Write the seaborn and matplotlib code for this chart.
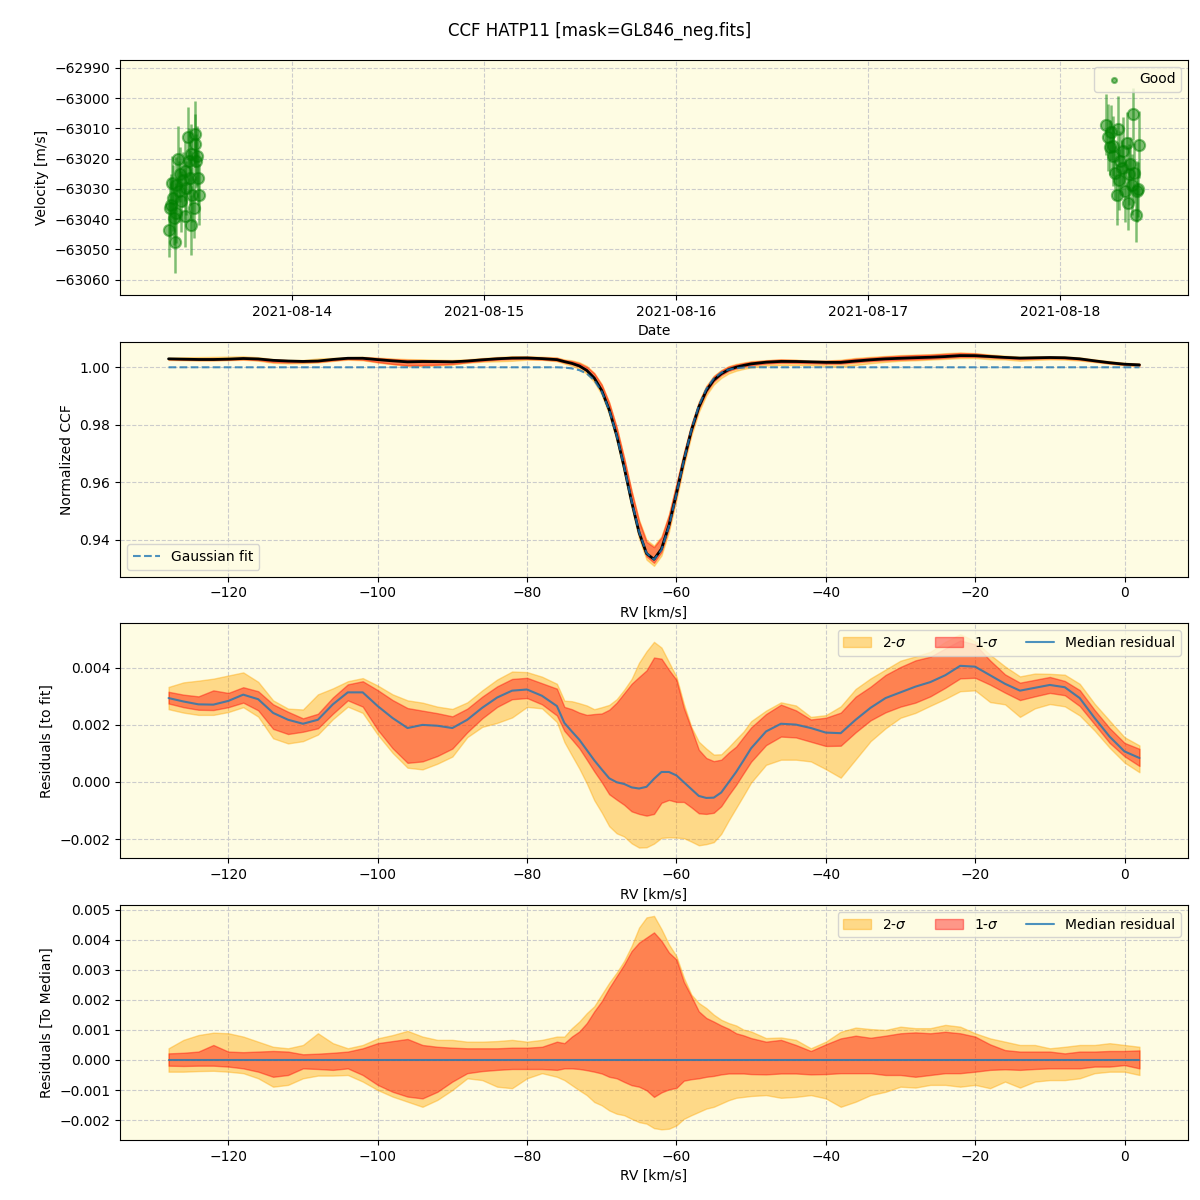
import numpy as np
import pandas as pd
import matplotlib.pyplot as plt
import matplotlib.dates as mdates
import seaborn as sns

# ---------------- radial velocity time series (top panel) ----------------
rv_times = ['2021-08-13 08:37', '2021-08-13 09:22', '2021-08-13 08:52', '2021-08-13 09:02',
            '2021-08-13 08:45', '2021-08-13 09:10', '2021-08-13 09:17', '2021-08-13 09:35',
            '2021-08-13 09:47', '2021-08-13 10:00', '2021-08-13 10:13', '2021-08-13 09:52',
            '2021-08-13 10:25', '2021-08-13 10:37', '2021-08-13 10:50', '2021-08-13 11:02',
            '2021-08-13 11:10', '2021-08-13 11:15', '2021-08-13 11:28', '2021-08-13 11:35',
            '2021-08-13 11:47', '2021-08-13 11:52', '2021-08-13 11:58', '2021-08-13 12:05',
            '2021-08-13 12:13', '2021-08-13 12:17', '2021-08-13 12:25', '2021-08-13 09:35',
            '2021-08-13 10:37', '2021-08-13 11:28',
            '2021-08-18 05:45', '2021-08-18 06:02', '2021-08-18 06:20', '2021-08-18 06:35',
            '2021-08-18 06:40', '2021-08-18 07:17', '2021-08-18 06:52', '2021-08-18 07:05',
            '2021-08-18 07:25', '2021-08-18 07:43', '2021-08-18 07:55', '2021-08-18 08:07',
            '2021-08-18 08:20', '2021-08-18 08:28', '2021-08-18 08:40', '2021-08-18 08:45',
            '2021-08-18 08:58', '2021-08-18 09:05', '2021-08-18 09:17', '2021-08-18 09:28',
            '2021-08-18 09:35', '2021-08-18 09:47', '2021-08-18 09:55', '2021-08-18 07:30',
            '2021-08-18 06:15']
rv_vals = [-63043.6, -63047.7, -63035.2, -63028.0, -63036.3, -63033.0, -63039.7, -63038.0,
           -63020.2, -63025.2, -63034.1, -63030.8, -63026.9, -63039.1, -63029.7, -63013.0,
           -63020.8, -63026.3, -63041.9, -63031.9, -63036.3, -63011.9, -63015.2, -63020.8,
           -63019.1, -63026.3, -63031.9, -63028.6, -63024.1, -63018.5,
           -63008.8, -63013.0, -63011.3, -63015.8, -63019.1, -63010.2, -63024.7, -63031.9,
           -63026.9, -63023.0, -63017.4, -63030.8, -63014.7, -63034.7, -63025.2, -63021.9,
           -63028.6, -63005.2, -63024.7, -63038.6, -63030.8, -63030.2, -63015.4, -63020.8,
           -63016.3]
rv_errs = [9, 10, 10, 9, 10, 11, 9, 10, 11, 9, 10, 10, 9, 10, 9, 10, 11, 9, 10, 9,
           10, 11, 10, 9, 10, 9, 10, 9, 10, 10,
           10, 11, 9, 10, 10, 11, 9, 10, 10, 9, 11, 10, 10, 9, 10, 9, 10, 8.5, 10, 9,
           10, 9, 11, 10, 9]

# ---------------- CCF profile data ----------------
rv_grid = [-128, -126, -124, -122, -120, -118, -116, -114, -112, -110, -108, -106, -104, -102,
           -100, -98, -96, -94, -92, -90, -88, -86, -84, -82, -80, -78, -76,
           -75, -74, -73, -72, -71, -70, -69, -68, -67, -66, -65, -64, -63, -62, -61, -60,
           -59, -58, -57, -56, -55, -54, -53, -52, -51,
           -50, -48, -46, -44, -42, -40, -38, -36, -34, -32, -30, -28, -26, -24, -22, -20,
           -18, -16, -14, -12, -10, -8, -6, -4, -2, 0, 2]

gauss_fit = [1.0] * 27 + [
    0.9999, 0.9996, 0.9990, 0.9978, 0.9955, 0.9915, 0.9851, 0.9763, 0.9653, 0.9534,
    0.9427, 0.9353, 0.9330, 0.9364, 0.9446, 0.9558, 0.9676, 0.9782, 0.9866, 0.9924,
    0.9961, 0.9981, 0.9992, 0.9997, 0.9999] + [1.0] * 27

# median residual to the fit, in units of 1e-3
med_resid = [2.94, 2.82, 2.72, 2.71, 2.84, 3.06, 2.90, 2.42, 2.18, 2.04, 2.18, 2.72, 3.14, 3.14,
             2.66, 2.24, 1.89, 2.00, 1.97, 1.89, 2.18, 2.60, 2.96, 3.20, 3.24, 3.02, 2.66,
             2.07, 1.77, 1.48, 1.12, 0.76, 0.44, 0.13, -0.01, -0.07, -0.19, -0.23, -0.17, 0.11,
             0.35, 0.35, 0.23, -0.01, -0.25, -0.49, -0.56, -0.55, -0.37, -0.01, 0.35, 0.76,
             1.18, 1.77, 2.04, 2.01, 1.89, 1.73, 1.71, 2.18, 2.60, 2.94, 3.14, 3.34, 3.50, 3.74,
             4.07, 4.04, 3.74, 3.44, 3.20, 3.30, 3.40, 3.32, 2.94, 2.24, 1.59, 1.07, 0.84]

# percentile spread around the median CCF, in units of 1e-3
hi2 = [0.39, 0.67, 0.83, 0.91, 0.89, 0.78, 0.61, 0.44, 0.39, 0.50, 0.89, 0.56, 0.39, 0.50,
       0.72, 0.83, 0.97, 0.78, 0.67, 0.67, 0.61, 0.61, 0.63, 0.67, 0.61, 0.67, 0.78,
       0.78, 1.06, 1.28, 1.56, 1.79, 2.18, 2.57, 2.91, 3.30, 3.80, 4.41, 4.75, 4.80, 4.36,
       3.85, 3.46, 2.74, 2.18, 1.90, 1.73, 1.51, 1.34, 1.23, 1.15, 1.01,
       0.95, 0.73, 0.75, 0.67, 0.39, 0.61, 0.94, 1.08, 1.03, 1.00, 1.11, 1.06, 1.06, 1.17,
       1.11, 0.89, 0.72, 0.61, 0.50, 0.50, 0.39, 0.44, 0.50, 0.50, 0.56, 0.50, 0.44]
hi1 = [0.22, 0.24, 0.28, 0.50, 0.28, 0.26, 0.28, 0.30, 0.28, 0.19, 0.21, 0.24, 0.28, 0.39,
       0.56, 0.63, 0.70, 0.50, 0.44, 0.41, 0.39, 0.39, 0.39, 0.41, 0.41, 0.44, 0.61,
       0.56, 0.78, 0.95, 1.23, 1.62, 1.96, 2.40, 2.79, 3.18, 3.63, 3.91, 4.08, 4.25, 3.97,
       3.58, 3.35, 2.60, 2.12, 1.62, 1.40, 1.28, 1.15, 1.04, 0.89, 0.82,
       0.73, 0.61, 0.67, 0.50, 0.30, 0.52, 0.72, 0.81, 0.74, 0.81, 0.89, 0.92, 0.89, 0.94,
       0.89, 0.78, 0.52, 0.33, 0.28, 0.28, 0.28, 0.22, 0.28, 0.28, 0.30, 0.30, 0.32]
lo1 = [-0.19, -0.20, -0.19, -0.19, -0.22, -0.28, -0.39, -0.56, -0.50, -0.28, -0.30, -0.33, -0.28, -0.50,
       -0.83, -1.06, -1.22, -1.28, -1.06, -0.72, -0.44, -0.37, -0.33, -0.30, -0.30, -0.30, -0.33,
       -0.28, -0.28, -0.30, -0.34, -0.39, -0.45, -0.56, -0.61, -0.73, -0.84, -0.89, -1.01, -1.23, -1.08,
       -0.98, -0.93, -0.69, -0.64, -0.61, -0.56, -0.53, -0.48, -0.45, -0.45, -0.45,
       -0.47, -0.48, -0.45, -0.45, -0.48, -0.47, -0.44, -0.44, -0.44, -0.50, -0.50, -0.56, -0.50, -0.44,
       -0.44, -0.39, -0.33, -0.31, -0.33, -0.30, -0.28, -0.28, -0.28, -0.22, -0.22, -0.17, -0.28]
lo2 = [-0.39, -0.39, -0.37, -0.36, -0.39, -0.44, -0.61, -0.89, -0.83, -0.61, -0.52, -0.52, -0.50, -0.72,
       -1.00, -1.22, -1.39, -1.56, -1.33, -1.00, -0.61, -0.67, -0.89, -0.94, -0.61, -0.44, -0.56,
       -0.67, -0.84, -1.01, -1.17, -1.40, -1.51, -1.68, -1.79, -1.84, -1.96, -2.07, -2.12, -2.27, -2.31,
       -2.29, -2.18, -1.96, -1.84, -1.73, -1.62, -1.56, -1.45, -1.34, -1.26, -1.23,
       -1.20, -1.17, -1.26, -1.23, -1.17, -1.28, -1.56, -1.39, -1.17, -1.06, -0.89, -0.92, -0.83, -0.83,
       -0.89, -0.83, -0.94, -0.72, -0.92, -0.72, -0.67, -0.67, -0.61, -0.44, -0.39, -0.39, -0.50]

# ---------------- build tables ----------------
rv_df = pd.DataFrame({'time': pd.to_datetime(rv_times), 'vrad': rv_vals, 'err': rv_errs})

ccf = pd.DataFrame({'rv': rv_grid, 'fit': gauss_fit})
ccf['res'] = np.array(med_resid) * 1e-3
for name, arr in [('hi2', hi2), ('hi1', hi1), ('lo1', lo1), ('lo2', lo2)]:
    ccf[name] = np.array(arr) * 1e-3
ccf['ccf'] = ccf['fit'] + ccf['res']
ccf['zero'] = ccf['res'] * 0

# ---------------- style ----------------
sns.set_style('ticks', {'axes.facecolor': '#fefce3', 'axes.edgecolor': 'black',
                        'xtick.color': 'black', 'ytick.color': 'black',
                        'text.color': 'black', 'axes.labelcolor': 'black'})
plt.rcParams['font.family'] = ['DejaVu Sans']

fig, axes = plt.subplots(4, 1, figsize=(12, 12), dpi=100)
fig.suptitle('CCF HATP11 [mask=GL846_neg.fits]', fontsize=12, y=0.982)

def style_grid(ax):
    ax.grid(True, linestyle='--', color='0.8', linewidth=0.8)

# panel 1: velocities
ax = axes[0]
ax.errorbar(rv_df['time'], rv_df['vrad'], yerr=rv_df['err'], fmt='none',
            ecolor='green', alpha=0.5, elinewidth=1.8)
sns.scatterplot(data=rv_df, x='time', y='vrad', ax=ax, color='green', alpha=0.5,
                s=65, edgecolor='green', linewidth=1.5, label='Good')
ax.set_ylim(-63065, -62987.4)
ax.xaxis.set_major_locator(mdates.DayLocator())
ax.xaxis.set_major_formatter(mdates.DateFormatter('%Y-%m-%d'))
ax.set_xlabel('Date')
ax.set_ylabel('Velocity [m/s]')
ax.legend(loc='upper right', markerscale=0.45)
style_grid(ax)

# panel 2: normalized CCF
ax = axes[1]
ax.fill_between(ccf['rv'], ccf['ccf'] + ccf['lo2'], ccf['ccf'] + ccf['hi2'], color='orange', alpha=0.4)
ax.fill_between(ccf['rv'], ccf['ccf'] + ccf['lo1'], ccf['ccf'] + ccf['hi1'], color='red', alpha=0.4)
sns.lineplot(data=ccf, x='rv', y='ccf', ax=ax, color='black', linewidth=2)
sns.lineplot(data=ccf, x='rv', y='fit', ax=ax, color='C0', linestyle='--', linewidth=1.5,
             alpha=0.8, label='Gaussian fit')
ax.set_xlabel('RV [km/s]')
ax.set_ylabel('Normalized CCF')
ax.legend(loc='lower left')
style_grid(ax)

# panel 3: residuals to fit
ax = axes[2]
ax.fill_between(ccf['rv'], ccf['res'] + ccf['lo2'], ccf['res'] + ccf['hi2'], color='orange',
                alpha=0.4, label='2-$\\sigma$')
ax.fill_between(ccf['rv'], ccf['res'] + ccf['lo1'], ccf['res'] + ccf['hi1'], color='red',
                alpha=0.4, label='1-$\\sigma$')
sns.lineplot(data=ccf, x='rv', y='res', ax=ax, color='C0', linewidth=1.5, alpha=0.8,
             label='Median residual')
ax.set_xlabel('RV [km/s]')
ax.set_ylabel('Residuals [to fit]')
ax.legend(loc='upper right', ncol=3)
style_grid(ax)

# panel 4: residuals to median
ax = axes[3]
ax.fill_between(ccf['rv'], ccf['lo2'], ccf['hi2'], color='orange', alpha=0.4, label='2-$\\sigma$')
ax.fill_between(ccf['rv'], ccf['lo1'], ccf['hi1'], color='red', alpha=0.4, label='1-$\\sigma$')
sns.lineplot(data=ccf, x='rv', y='zero', ax=ax, color='C0', linewidth=1.5, alpha=0.8,
             label='Median residual')
ax.set_xlabel('RV [km/s]')
ax.set_ylabel('Residuals [To Median]')
ax.legend(loc='upper right', ncol=3)
style_grid(ax)

fig.subplots_adjust(left=0.1, right=0.99, top=0.95, bottom=0.05, hspace=0.2)
fig.savefig('out.png', dpi=100)
